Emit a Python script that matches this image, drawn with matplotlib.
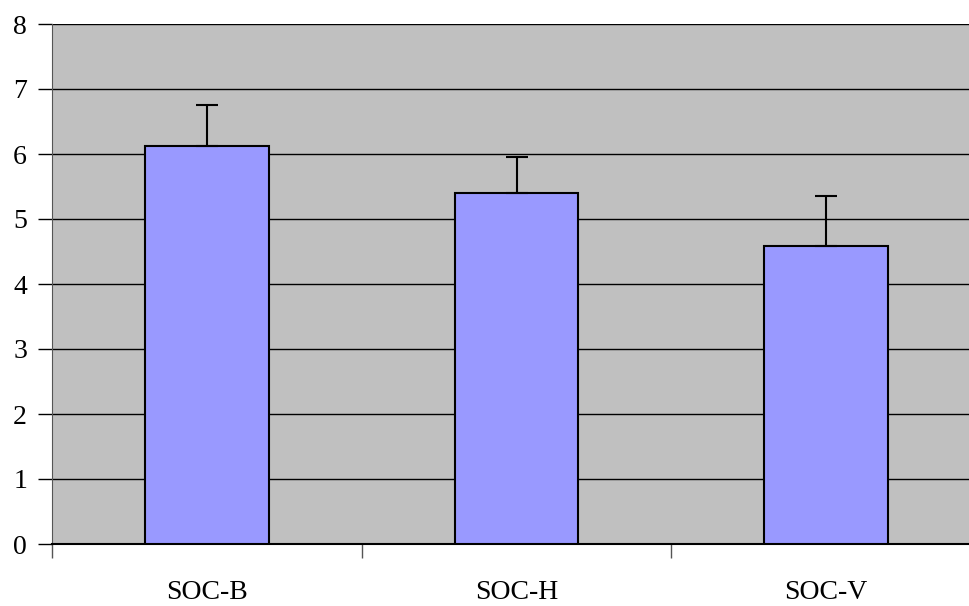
import numpy as np
import matplotlib.pyplot as plt

categories = ["SOC-B", "SOC-H", "SOC-V"]
values = [6.13, 5.40, 4.59]
err_up = [0.62, 0.55, 0.77]

plt.rcParams['font.family'] = ['Liberation Serif', 'DejaVu Serif']

fig = plt.figure(figsize=(9.7, 6.06), dpi=100)
# plot area runs slightly past the right edge, as in the reference
ax = fig.add_axes([52 / 970, 62 / 606, 929 / 970, 520 / 606])
ax.set_facecolor('#c0c0c0')

x = np.arange(len(categories))
ax.bar(x, values, width=0.4, color='#9999ff', edgecolor='black', linewidth=1.5, zorder=3)
ax.errorbar(x, values, yerr=[np.zeros(len(values)), err_up], fmt='none',
            ecolor='black', elinewidth=1.5, capsize=8, capthick=1.5, zorder=4)

ax.set_xlim(-0.5, 2.5)
ax.set_ylim(0, 8)
ax.set_yticks(range(0, 9))
ax.yaxis.grid(True, color='black', linewidth=1)
ax.set_axisbelow(True)

ax.set_xticks([-0.5, 0.5, 1.5, 2.5])
ax.set_xticklabels([])
ax.set_xticks(x, minor=True)
ax.set_xticklabels(categories, minor=True)
ax.tick_params(axis='x', which='minor', length=0, pad=26, labelsize=20)
ax.tick_params(axis='x', which='major', length=10, width=1, color='#555555', direction='out')
ax.tick_params(axis='y', length=10, width=1, direction='out', labelsize=20, pad=8)

for side in ['top', 'right']:
    ax.spines[side].set_visible(False)
ax.spines['left'].set_color('#555555')
ax.spines['bottom'].set_color('black')
ax.spines['bottom'].set_linewidth(1.5)

fig.savefig('out.png', dpi=100)
